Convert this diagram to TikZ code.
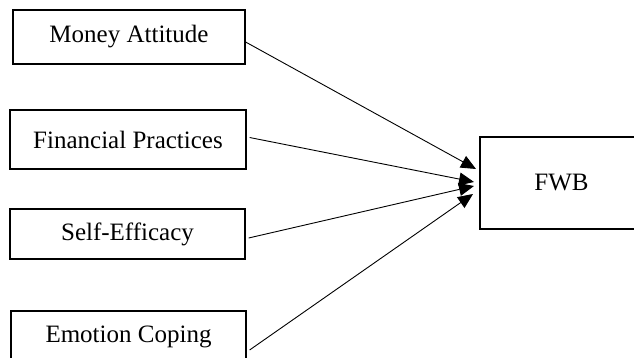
\documentclass[tikz,border=0pt]{standalone}
\usepackage{fontspec}
\setmainfont{Liberation Serif}
\usetikzlibrary{arrows.meta}

\begin{document}
\begin{tikzpicture}[x=1pt,y=-1pt,>={Triangle[length=15pt,width=13pt]},
  main node/.style={rectangle,draw,line width=1.2pt,
    font=\fontsize{25}{30}\selectfont,inner sep=0pt},
  link/.style={->,line width=0.9pt}]

  \useasboundingbox (0,0) rectangle (634,358);

  \node[main node,minimum width=232pt,minimum height=54pt] (Money) at (129,37) {Money Attitude};
  \node[main node,minimum width=236pt,minimum height=59pt] (Practices) at (128,139.5) {Financial Practices};
  \node[main node,minimum width=235pt,minimum height=50pt] (Efficacy) at (127.5,234) {Self-Efficacy};
  \node[main node,minimum width=235pt,minimum height=52pt] (Coping) at (128.5,337) {Emotion Coping};
  \node[main node,minimum width=163pt,minimum height=92pt] (FWB) at (561.5,183) {FWB};

  % arrow tips in front of FWB
  \coordinate (tipA) at (476,169);
  \coordinate (tipB) at (474,182);
  \coordinate (tipC) at (474,186);
  \coordinate (tipD) at (473,194);

  \path[link]
    ([yshift=-5pt]Money.east) edge (tipA)
    ([xshift=3pt,yshift=2pt]Practices.east) edge (tipB)
    ([xshift=3pt,yshift=-4pt]Efficacy.east) edge (tipC)
    ([xshift=3pt,yshift=-13pt]Coping.east) edge (tipD)
    ;
\end{tikzpicture}
\end{document}
